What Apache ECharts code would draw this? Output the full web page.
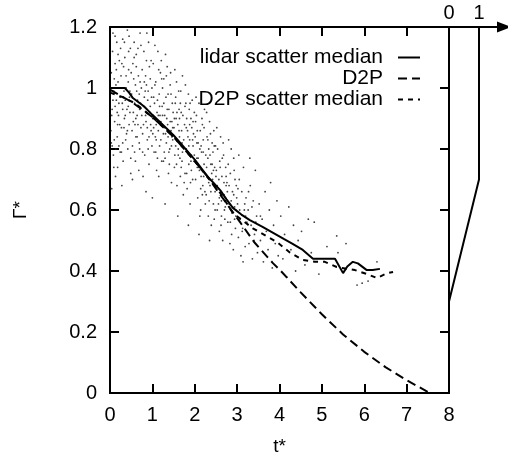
<!DOCTYPE html>
<html>
<head>
<meta charset="utf-8">
<script src="https://cdn.jsdelivr.net/npm/echarts@6/dist/echarts.min.js"></script>
<style>html,body{margin:0;padding:0;background:#fff}
#wrap{position:relative;width:508px;height:452px}
#c,#t{position:absolute;left:0;top:0;width:508px;height:452px}
#t{pointer-events:none}</style>
</head>
<body>
<div id="wrap"><div id="c"></div><div id="t"></div></div>
<script>
// ---- data ----
const xTicks = [0, 1, 2, 3, 4, 5, 6, 7, 8];
const yTicks = [0, 0.2, 0.4, 0.6, 0.8, 1, 1.2];
const insetTicks = [0, 1];

const lidarMedian = [[0,1.0],[0.35,1.0],[0.45,0.985],[0.54,0.967],[0.8,0.94],[1.0,0.912],[1.3,0.872],[1.5,0.845],[1.72,0.81],[2.0,0.765],[2.3,0.71],[2.45,0.688],[2.6,0.665],[2.75,0.635],[2.9,0.607],[3.1,0.585],[3.3,0.567],[3.6,0.545],[3.85,0.525],[4.1,0.505],[4.3,0.49],[4.55,0.469],[4.79,0.44],[5.0,0.44],[5.31,0.44],[5.5,0.393],[5.6,0.415],[5.73,0.43],[5.85,0.425],[6.06,0.403],[6.2,0.403],[6.37,0.407]];

const d2p = [[0,0.995],[0.5,0.955],[1.0,0.905],[1.5,0.84],[2.0,0.76],[2.3,0.71],[2.52,0.666],[2.8,0.612],[3.07,0.56],[3.4,0.495],[3.85,0.425],[4.0,0.405],[4.5,0.33],[5.0,0.258],[5.5,0.192],[6.0,0.135],[6.5,0.085],[7.0,0.042],[7.55,0]];

const d2pMedian = [[0,0.985],[0.3,0.97],[0.59,0.95],[1.0,0.905],[1.5,0.84],[2.0,0.76],[2.3,0.708],[2.6,0.656],[2.9,0.59],[3.37,0.54],[3.94,0.495],[4.25,0.46],[4.55,0.436],[4.84,0.43],[5.07,0.43],[5.35,0.413],[5.78,0.403],[6.06,0.39],[6.3,0.377],[6.54,0.393],[6.68,0.397]];

const insetProfile = [[0,0],[0,0.3],[1,0.7],[1,1.2]];

const scatterPts = [
[0.02,0.86],[0.03,1.05],[0.05,0.93],[0.06,1.12],[0.08,0.78],[0.09,0.99],[0.11,0.89],[0.12,1.08],[0.13,0.71],[0.15,0.96],[0.16,1.15],[0.17,0.84],[0.19,1.02],[0.2,0.91],[0.21,0.81],[0.22,1.09],[0.24,0.97],[0.04,0.67],[0.07,1.18],[0.1,0.83],[0.14,1.01],[0.18,0.74],[0.23,0.88],[0.01,0.99],[0.05,0.81],[0.12,0.94],[0.19,1.11],[0.24,0.79],
[0.26,1.04],[0.27,0.87],[0.29,0.95],[0.3,1.16],[0.31,0.76],[0.33,0.99],[0.34,0.9],[0.35,1.1],[0.37,0.83],[0.38,1.0],[0.4,0.93],[0.41,1.19],[0.42,0.8],[0.44,1.06],[0.45,0.88],[0.46,0.97],[0.48,1.13],[0.49,0.72],[0.28,0.68],[0.32,1.07],[0.36,0.91],[0.39,0.85],[0.43,1.02],[0.47,0.92],[0.3,0.82],[0.45,1.17],
[0.51,0.98],[0.52,0.86],[0.54,1.08],[0.55,0.92],[0.57,1.15],[0.58,0.79],[0.6,1.01],[0.61,0.9],[0.62,1.11],[0.64,0.84],[0.65,0.96],[0.67,1.04],[0.68,0.73],[0.7,0.93],[0.71,1.18],[0.73,0.87],[0.74,1.0],[0.53,0.7],[0.56,1.03],[0.59,0.88],[0.63,0.99],[0.66,1.13],[0.69,0.82],[0.72,0.95],[0.5,1.2],[0.6,0.76],
[0.76,1.06],[0.77,0.85],[0.79,0.94],[0.8,1.12],[0.82,0.78],[0.83,0.99],[0.85,0.89],[0.86,1.09],[0.88,0.83],[0.89,0.96],[0.91,1.15],[0.92,0.75],[0.94,0.92],[0.95,1.03],[0.97,0.86],[0.98,0.97],[0.78,0.71],[0.81,1.02],[0.84,0.91],[0.87,1.18],[0.9,0.8],[0.93,1.07],[0.96,0.88],[0.99,1.0],[0.85,0.66],
[1.01,0.9],[1.02,1.08],[1.04,0.79],[1.05,0.95],[1.07,0.84],[1.08,1.02],[1.1,0.73],[1.11,0.92],[1.13,1.12],[1.14,0.86],[1.16,0.98],[1.17,0.81],[1.19,1.05],[1.2,0.89],[1.22,0.76],[1.23,0.94],[1.24,1.0],[1.03,0.87],[1.06,1.14],[1.09,0.83],[1.12,0.96],[1.15,0.71],[1.18,0.91],[1.21,1.09],[1.0,0.64],
[1.26,0.85],[1.27,1.03],[1.29,0.91],[1.3,0.77],[1.32,0.97],[1.33,0.82],[1.35,1.07],[1.36,0.88],[1.38,0.72],[1.39,0.93],[1.41,0.8],[1.42,1.01],[1.44,0.86],[1.45,0.69],[1.47,0.95],[1.48,0.83],[1.28,0.79],[1.31,1.11],[1.34,0.9],[1.37,0.98],[1.4,0.75],[1.43,1.05],[1.46,0.89],[1.49,0.92],[1.3,0.62],
[1.51,0.87],[1.52,0.74],[1.54,0.95],[1.55,0.81],[1.57,1.02],[1.58,0.68],[1.6,0.88],[1.61,0.78],[1.63,0.93],[1.64,0.84],[1.66,0.71],[1.67,0.99],[1.69,0.86],[1.7,0.76],[1.72,0.91],[1.73,0.65],[1.74,0.83],[1.53,1.06],[1.56,0.9],[1.59,0.83],[1.62,0.99],[1.65,0.77],[1.68,0.92],[1.71,1.04],[1.6,0.58],
[1.76,0.88],[1.77,0.72],[1.79,0.95],[1.8,0.8],[1.82,0.67],[1.83,0.86],[1.85,0.98],[1.86,0.75],[1.88,0.83],[1.89,0.62],[1.91,0.9],[1.92,0.78],[1.94,0.96],[1.95,0.7],[1.97,0.85],[1.98,0.76],[1.78,1.01],[1.81,0.9],[1.84,0.79],[1.87,0.93],[1.9,0.69],[1.93,0.87],[1.96,0.81],[1.99,0.92],[1.85,0.55],
[2.01,0.84],[2.02,0.7],[2.04,0.91],[2.05,0.77],[2.07,0.64],[2.08,0.82],[2.1,0.95],[2.11,0.73],[2.13,0.86],[2.14,0.6],[2.16,0.79],[2.17,0.9],[2.19,0.68],[2.2,0.83],[2.22,0.75],[2.23,0.93],[2.24,0.66],[2.03,0.97],[2.06,0.86],[2.09,0.74],[2.12,0.58],[2.15,0.81],[2.18,0.88],[2.21,0.71],[2.1,0.52],
[2.26,0.78],[2.27,0.65],[2.29,0.84],[2.3,0.71],[2.32,0.58],[2.33,0.8],[2.35,0.89],[2.36,0.68],[2.38,0.75],[2.39,0.55],[2.41,0.82],[2.42,0.7],[2.44,0.62],[2.45,0.86],[2.47,0.74],[2.48,0.66],[2.28,0.92],[2.31,0.77],[2.34,0.63],[2.37,0.85],[2.4,0.72],[2.43,0.79],[2.46,0.57],[2.49,0.81],[2.35,0.5],
[2.51,0.73],[2.53,0.6],[2.54,0.8],[2.56,0.67],[2.58,0.53],[2.59,0.76],[2.61,0.84],[2.63,0.63],[2.64,0.71],[2.66,0.5],[2.68,0.78],[2.69,0.65],[2.71,0.57],[2.73,0.74],[2.74,0.68],[2.52,0.87],[2.57,0.7],[2.62,0.55],[2.67,0.82],[2.72,0.61],
[2.76,0.69],[2.78,0.56],[2.79,0.75],[2.81,0.62],[2.83,0.49],[2.84,0.72],[2.86,0.8],[2.88,0.59],[2.89,0.66],[2.91,0.47],[2.93,0.73],[2.94,0.61],[2.96,0.54],[2.98,0.68],[2.99,0.64],[2.8,0.83],[2.87,0.52],[2.92,0.77],[2.97,0.58],
[3.01,0.62],[3.03,0.51],[3.05,0.7],[3.07,0.57],[3.09,0.45],[3.11,0.66],[3.13,0.54],[3.15,0.74],[3.17,0.6],[3.19,0.48],[3.21,0.64],[3.23,0.56],[3.04,0.78],[3.14,0.43],
[3.26,0.6],[3.28,0.49],[3.31,0.68],[3.33,0.55],[3.36,0.44],[3.38,0.63],[3.41,0.52],[3.43,0.73],[3.46,0.58],[3.48,0.46],[3.3,0.77],
[3.52,0.62],[3.55,0.5],[3.59,0.57],[3.62,0.43],[3.66,0.66],[3.69,0.53],[3.73,0.47],[3.76,0.6],[3.79,0.69],[3.83,0.41],[3.86,0.55],[3.9,0.49],[3.94,0.63],[3.97,0.45],
[4.03,0.58],[4.08,0.44],[4.12,0.52],[4.17,0.38],[4.22,0.61],[4.27,0.47],[4.33,0.55],[4.38,0.4],[4.44,0.5],
[4.52,0.53],[4.6,0.42],[4.68,0.57],[4.75,0.46],[4.82,0.56],[4.93,0.39],
[5.12,0.48],[5.35,0.515],[5.38,0.46],[5.57,0.49],[5.83,0.354],[5.95,0.36],[6.09,0.367],[6.3,0.43],
[0.04,0.91],[0.33,0.87],[0.71,1.02],[0.15,1.06],[0.58,0.95],[0.92,0.84],[0.27,0.79],[0.44,1.12],[0.81,0.97],[0.09,0.74],[0.66,0.88],[0.38,1.04],[0.97,1.09],[0.21,0.95],[0.53,0.81],[0.75,0.91],[0.12,1.17],[0.47,0.99],[0.86,1.01],[0.3,0.93],[0.62,1.07],[0.03,0.82],[0.77,0.79],[0.41,0.86],[0.95,0.94],[0.18,0.88],[0.69,0.98],[0.25,1.13],[0.57,1.1],[0.88,0.87],[0.07,0.96],[0.49,0.77],[0.73,1.14],[0.36,0.96],[0.14,0.8],[0.64,0.91],[0.84,1.04],[0.22,1.0],[0.55,0.89],[0.99,0.81],[0.1,1.03],[0.43,0.94],[0.79,0.88],[0.28,1.08],[0.61,0.84],[0.9,0.99],[0.17,0.92],[0.5,1.05],[0.7,0.8],[0.34,1.15],
[1.03,0.97],[1.37,0.84],[1.71,0.79],[1.15,1.06],[1.52,0.9],[1.88,0.88],[1.26,0.76],[1.44,0.98],[1.81,0.72],[1.09,0.88],[1.63,0.86],[1.95,0.83],[1.2,0.83],[1.57,0.75],[1.33,1.04],[1.77,0.94],[1.12,0.77],[1.48,0.87],[1.92,0.73],[1.24,0.91],[1.66,0.95],[1.39,0.79],[1.84,0.84],[1.06,1.01],[1.55,0.97],[1.99,0.78],[1.29,0.87],[1.7,0.82],[1.17,0.94],[1.45,0.81],[1.89,0.95],[1.35,0.93],[1.61,0.8],[1.08,0.79],[1.8,0.87],[1.42,0.89],[1.22,1.03],[1.68,0.74],[1.96,0.89],[1.31,0.85],[1.53,0.78],[1.86,0.81],[1.14,0.91],[1.58,0.92],[1.75,0.69],[1.27,0.95],[1.91,0.76],[1.46,0.84],[1.64,0.9],[1.01,0.85],
[2.05,0.82],[2.41,0.75],[2.77,0.66],[2.15,0.71],[2.53,0.68],[2.89,0.61],[2.22,0.87],[2.6,0.74],[2.95,0.7],[2.33,0.69],[2.7,0.6],[2.08,0.77],[2.46,0.81],[2.84,0.56],[2.18,0.65],[2.56,0.62],[2.92,0.65],[2.28,0.74],[2.65,0.77],[2.02,0.89],[2.38,0.66],[2.74,0.71],[2.12,0.8],[2.5,0.71],[2.86,0.63],[2.25,0.62],[2.63,0.58],[2.97,0.6],[2.31,0.83],[2.69,0.69],[2.14,0.67],[2.44,0.73],[2.81,0.68],[2.2,0.79],[2.58,0.64],[2.94,0.57],[2.36,0.78],[2.72,0.64],[2.06,0.74],[2.48,0.6],
[3.06,0.6],[3.2,0.58],[3.35,0.61],[3.12,0.53],[3.27,0.66],[3.44,0.56],[3.02,0.67],[3.18,0.62],[3.4,0.5],[3.55,0.58]
];

const seriesNames = ['lidar scatter median', 'D2P', 'D2P scatter median'];
// ---------------------------------------

const FONT = '"Liberation Sans", Arial, Helvetica, sans-serif';
const MAIN_GRID = {left: 110, right: 59, top: 27, bottom: 59};

function axis(extra) {
  const base = {
    type: 'value',
    axisLine: {show: true, onZero: false, lineStyle: {color: '#000', width: 2}},
    axisTick: {show: true, inside: true, length: 9, lineStyle: {color: '#000', width: 2}},
    splitLine: {show: false}
  };
  return Object.assign(base, extra);
}
function legend(name, top) {
  return {
    data: [name], top: top,
    orient: 'vertical', right: 87, align: 'right', itemWidth: 22, itemHeight: 12, padding: 0,
    textStyle: {fontFamily: FONT, fontSize: 21, color: '#000', padding: [0, 10, 0, 0]},
    itemStyle: {color: 'rgba(0,0,0,0)', borderColor: 'rgba(0,0,0,0)', borderWidth: 0, opacity: 0},
    selectedMode: false
  };
}
const labelStyle = () => ({fontFamily: FONT, fontSize: 20, color: '#000'});

// overlay first: the inward tick marks of the main frame on all four sides
try {
  const ticks = echarts.init(document.getElementById('t'));
  ticks.setOption({
    animation: false,
    grid: [Object.assign({}, MAIN_GRID)],
    xAxis: [
      axis({min: xTicks[0], max: xTicks[xTicks.length-1], interval: 1, axisLabel: {show: false}}),
      axis({position: 'top', min: xTicks[0], max: xTicks[xTicks.length-1], interval: 1, axisLabel: {show: false}})
    ],
    yAxis: [
      axis({min: yTicks[0], max: yTicks[yTicks.length-1], interval: 0.2, axisLabel: {show: false}}),
      axis({position: 'right', min: yTicks[0], max: yTicks[yTicks.length-1], interval: 0.2, axisLabel: {show: false}})
    ],
    series: [{type: 'line', data: lidarMedian, symbol: 'none', silent: true, lineStyle: {opacity: 0}}]
  });
} catch (e) { console.error(e); }

// main chart: data, labels, legend, inset
try {
  const chart = echarts.init(document.getElementById('c'));
  chart.setOption({
    animation: false,
    grid: [
      Object.assign({outerBoundsMode: 'none'}, MAIN_GRID),
      {left: 449, width: 55, top: 27, bottom: 59, outerBoundsMode: 'none'}
    ],
    legend: [legend(seriesNames[0], 47), legend(seriesNames[1], 68), legend(seriesNames[2], 89)],
    xAxis: [
      axis({gridIndex: 0, position: 'bottom', min: xTicks[0], max: xTicks[xTicks.length-1], interval: 1,
        name: 't*', nameLocation: 'middle', nameGap: 44,
        nameTextStyle: {fontFamily: FONT, fontSize: 19, color: '#000'},
        axisLabel: Object.assign(labelStyle(), {margin: 12})}),
      axis({gridIndex: 0, position: 'top', min: xTicks[0], max: xTicks[xTicks.length-1], interval: 1,
        axisLabel: {show: false}}),
      axis({gridIndex: 1, position: 'top', min: 0, max: 55/30, interval: 1,
        axisTick: {show: false},
        axisLine: {show: true, onZero: false, symbol: ['none', 'triangle'], symbolSize: [11, 14], lineStyle: {color: '#000', width: 2}},
        axisLabel: Object.assign(labelStyle(), {margin: 4, formatter: v => insetTicks.indexOf(v) >= 0 ? String(v) : ''})})
    ],
    yAxis: [
      axis({gridIndex: 0, position: 'left', min: yTicks[0], max: yTicks[yTicks.length-1], interval: 0.2,
        name: 'Γ*', nameLocation: 'middle', nameGap: 80, nameRotate: 90,
        nameTextStyle: {fontFamily: FONT, fontSize: 19, color: '#000'},
        axisLabel: Object.assign(labelStyle(), {margin: 13})}),
      axis({gridIndex: 0, position: 'right', min: yTicks[0], max: yTicks[yTicks.length-1], interval: 0.2,
        axisLabel: {show: false}}),
      axis({gridIndex: 1, position: 'left', min: yTicks[0], max: yTicks[yTicks.length-1], interval: 0.2,
        axisTick: {show: false}, axisLabel: {show: false}})
    ],
    series: [
      {type: 'scatter', xAxisIndex: 0, yAxisIndex: 0, data: scatterPts, symbolSize: 1.8, silent: true,
        itemStyle: {color: '#222', opacity: 0.85}},
      {name: seriesNames[1], type: 'line', xAxisIndex: 0, yAxisIndex: 0, data: d2p, symbol: 'none',
        lineStyle: {color: '#000', width: 2, type: [9, 5]}, itemStyle: {color: '#000'}},
      {name: seriesNames[2], type: 'line', xAxisIndex: 0, yAxisIndex: 0, data: d2pMedian, symbol: 'none',
        lineStyle: {color: '#000', width: 2, type: [5, 5]}, itemStyle: {color: '#000'}},
      {name: seriesNames[0], type: 'line', xAxisIndex: 0, yAxisIndex: 0, data: lidarMedian, symbol: 'none',
        lineStyle: {color: '#000', width: 2, type: 'solid'}, itemStyle: {color: '#000'}},
      {type: 'line', xAxisIndex: 2, yAxisIndex: 2, data: insetProfile, symbol: 'none', silent: true,
        lineStyle: {color: '#000', width: 2}}
    ]
  });
} catch (e) { console.error(e); }
</script>
</body>
</html>
